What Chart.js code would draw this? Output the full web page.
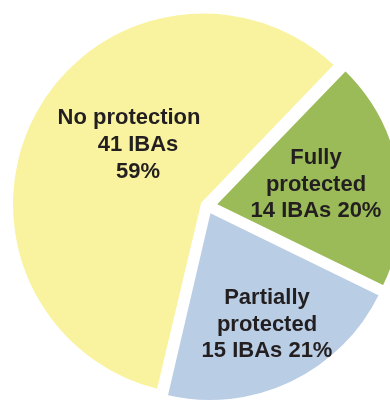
<!DOCTYPE html>
<html>
<head>
<meta charset="utf-8">
<script src="https://cdn.jsdelivr.net/npm/chart.js@4"></script>
<style>
html,body{margin:0;padding:0;background:#ffffff;}
#wrap{position:relative;width:390px;height:401px;}
</style>
</head>
<body>
<div id="wrap"><canvas id="c" width="390" height="401"></canvas></div>
<script>
// ---- data ----
const categories = ['Fully protected', 'Partially protected', 'No protection'];
const ibaCounts = [14, 15, 41];
const percentLabels = ['20%', '21%', '59%'];
const nameLines = [['Fully', 'protected'], ['Partially', 'protected'], ['No protection']];
const sliceColors = ['#9BBB59', '#B9CDE5', '#F9F3A0'];

// label lines built from the data
const labelLines = categories.map((c, i) => {
  if (i === 2) return [nameLines[i][0], ibaCounts[i] + ' IBAs', percentLabels[i]];
  return [...nameLines[i], ibaCounts[i] + ' IBAs ' + percentLabels[i]];
});

// label placement (relative to pie centre) - styling only
const labelPlace = [
  {dx: [109, 109, 109], dy: [-50, -23, 3]},
  {dx: [60, 60, 60], dy: [90, 117, 143]},
  {dx: [-78, -69, -69], dy: [-90, -63, -36]}
];

const labelPlugin = {
  id: 'sliceLabels',
  afterDatasetsDraw(chart) {
    const ctx = chart.ctx;
    const meta = chart.getDatasetMeta(0);
    ctx.save();
    ctx.font = 'bold 22px "Liberation Sans", Arial, sans-serif';
    ctx.fillStyle = '#231F20';
    ctx.textAlign = 'center';
    ctx.textBaseline = 'alphabetic';
    meta.data.forEach((arc, i) => {
      const p = labelPlace[i];
      labelLines[i].forEach((line, j) => {
        ctx.fillText(line, arc.x + p.dx[j], arc.y + p.dy[j] + 8);
      });
    });
    ctx.restore();
  }
};

new Chart(document.getElementById('c'), {
  type: 'pie',
  data: {
    labels: categories,
    datasets: [{
      data: ibaCounts,
      backgroundColor: sliceColors,
      borderColor: '#ffffff',
      borderWidth: [4, 2, 5],
      borderJoinStyle: 'miter',
      offset: [28, 26, 16],
      radius: 189,
      clip: false
    }]
  },
  options: {
    responsive: false,
    animation: false,
    rotation: 44,
    layout: {padding: {left: 24, right: 0, top: 11, bottom: 0}},
    plugins: {
      legend: {display: false},
      tooltip: {enabled: false}
    }
  },
  plugins: [labelPlugin]
});
</script>
</body>
</html>
